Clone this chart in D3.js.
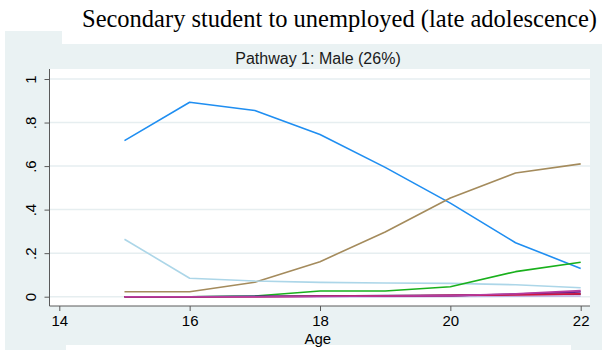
<!DOCTYPE html>
<html>
<head>
<meta charset="utf-8">
<script src="https://cdn.jsdelivr.net/npm/d3@7"></script>
<style>
  html, body { margin: 0; padding: 0; background: #ffffff; }
  svg { display: block; }
</style>
</head>
<body>
<script>
// Ages on the x axis
const ages = [15, 16, 17, 18, 19, 20, 21, 22];

// Share of the pathway in each state, by age
const blueSeries      = [0.717, 0.893, 0.855, 0.745, 0.594, 0.430, 0.248, 0.130];
const brownSeries     = [0.023, 0.023, 0.066, 0.161, 0.297, 0.453, 0.568, 0.610];
const lightBlueSeries = [0.264, 0.085, 0.072, 0.066, 0.063, 0.061, 0.055, 0.041];
const greenSeries     = [0.000, 0.000, 0.003, 0.026, 0.026, 0.046, 0.115, 0.158];
const lavenderSeries  = [0.000, 0.000, 0.000, 0.000, 0.000, 0.001, 0.002, 0.003];
const navySeries      = [0.000, 0.000, 0.002, 0.003, 0.005, 0.006, 0.010, 0.012];
const purpleSeries    = [0.000, 0.000, 0.001, 0.002, 0.003, 0.005, 0.012, 0.022];
const crimsonSeries   = [0.000, 0.000, 0.000, 0.002, 0.004, 0.006, 0.008, 0.013];
const magentaSeries   = [0.000, 0.000, 0.000, 0.001, 0.003, 0.005, 0.013, 0.028];

// Axis ticks
const xTicks = [14, 16, 18, 20, 22];
const yTicks = [0, 0.2, 0.4, 0.6, 0.8, 1];
const yTickLabels = ["0", ".2", ".4", ".6", ".8", "1"];

const titleText = "Secondary student to unemployed (late adolescence)";
const subtitleText = "Pathway 1: Male (26%)";
const xTitle = "Age";

const series = [
  { values: blueSeries,      color: "#1f8ef1" },
  { values: brownSeries,     color: "#a48b5c" },
  { values: lightBlueSeries, color: "#acd6e8" },
  { values: greenSeries,     color: "#19b01c" },
  { values: lavenderSeries,  color: "#bfb0e4" },
  { values: navySeries,      color: "#2b3f80" },
  { values: purpleSeries,    color: "#6b1f8e" },
  { values: crimsonSeries,   color: "#d4123e" },
  { values: magentaSeries,   color: "#b53c9f" }
];

const W = 602, H = 350;
const plot = { left: 49.5, right: 590, top: 69, bottom: 306 };
const sans = "Liberation Sans, Arial, sans-serif";

const svg = d3.select("body").append("svg")
  .attr("width", W).attr("height", H);

// Graph region background and framing boxes
svg.append("rect").attr("x", 5).attr("y", 31).attr("width", W - 5).attr("height", H - 31)
  .attr("fill", "#eaf2f3");
svg.append("rect").attr("x", 62).attr("y", 0).attr("width", W - 62).attr("height", 44)
  .attr("fill", "#ffffff");
svg.append("rect").attr("x", 66).attr("y", 345).attr("width", 505).attr("height", 5)
  .attr("fill", "#ffffff");

// Plot region
svg.append("rect").attr("x", plot.left).attr("y", plot.top)
  .attr("width", plot.right - plot.left).attr("height", plot.bottom - plot.top)
  .attr("fill", "#ffffff");

const x = d3.scaleLinear().domain([14, 22]).range([59.3, 580.7]);
const y = d3.scaleLinear().domain([0, 1]).range([296.7, 79]);

// Horizontal grid lines
svg.append("g").selectAll("line").data(yTicks).join("line")
  .attr("x1", plot.left).attr("x2", plot.right)
  .attr("y1", d => y(d)).attr("y2", d => y(d))
  .attr("stroke", "#e6eef0").attr("stroke-width", 1.5);

// Series lines
const line = d3.line()
  .x((d, i) => x(ages[i]))
  .y(d => y(d));

svg.append("g").selectAll("path").data(series).join("path")
  .attr("d", s => line(s.values))
  .attr("fill", "none")
  .attr("stroke", s => s.color)
  .attr("stroke-width", 1.6)
  .attr("stroke-linejoin", "round");

// Y axis
const yAxis = d3.axisLeft(y).tickValues(yTicks)
  .tickFormat((d, i) => yTickLabels[i]).tickSize(5).tickPadding(8);
const gy = svg.append("g").attr("transform", `translate(${plot.left},0)`).call(yAxis);
gy.select(".domain").attr("d", `M0,${plot.top}V${plot.bottom}`).attr("stroke", "#5a5a5a");
gy.selectAll(".tick line").attr("stroke", "#5a5a5a");
gy.selectAll(".tick text")
  .attr("font-family", sans)
  .attr("font-size", 15).attr("fill", "#000")
  .attr("text-anchor", "middle")
  .attr("x", null).attr("dy", null)
  .attr("dominant-baseline", "central")
  .attr("transform", "translate(-19,0) rotate(-90)");

// X axis
const xAxis = d3.axisBottom(x).tickValues(xTicks).tickSize(5).tickPadding(4);
const gx = svg.append("g").attr("transform", `translate(0,${plot.bottom})`).call(xAxis);
gx.select(".domain").attr("d", `M${plot.left},0H${plot.right}`).attr("stroke", "#5a5a5a");
gx.selectAll(".tick line").attr("stroke", "#5a5a5a");
gx.selectAll(".tick text")
  .attr("font-family", sans)
  .attr("font-size", 15).attr("fill", "#000");

// Axis title
svg.append("text")
  .attr("x", (plot.left + plot.right) / 2 - 2).attr("y", 344)
  .attr("text-anchor", "middle")
  .attr("font-family", sans)
  .attr("font-size", 15).attr("fill", "#000")
  .text(xTitle);

// Subtitle
svg.append("text")
  .attr("x", 318).attr("y", 64)
  .attr("text-anchor", "middle")
  .attr("font-family", sans)
  .attr("font-size", 16).attr("fill", "#1a1a1a")
  .text(subtitleText);

// Title
svg.append("text")
  .attr("x", 597).attr("y", 27)
  .attr("text-anchor", "end")
  .attr("font-family", "Liberation Serif, Times New Roman, serif")
  .attr("font-size", 24.5).attr("fill", "#000")
  .text(titleText);
</script>
</body>
</html>
